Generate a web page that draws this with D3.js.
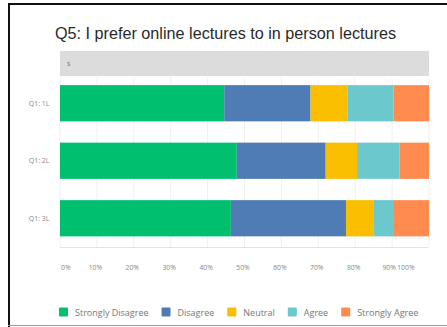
<!DOCTYPE html>
<html>
<head>
<meta charset="utf-8">
<script src="https://cdn.jsdelivr.net/npm/d3@7"></script>
<style>
  html, body { margin: 0; padding: 0; background: #fff; }
  svg { display: block; }
</style>
</head>
<body>
<script>
// Survey responses, percent of respondents per group
const groups = ["Q1: 1L", "Q1: 2L", "Q1: 3L"];
const responses = ["Strongly Disagree", "Disagree", "Neutral", "Agree", "Strongly Agree"];
const stronglyDisagree = [44.5, 47.9, 46.3];
const disagree = [23.4, 24.1, 31.2];
const neutral = [10.0, 8.5, 7.4];
const agree = [12.5, 11.5, 5.6];
const stronglyAgree = [9.6, 8.0, 9.5];
const tickValues = [0, 10, 20, 30, 40, 50, 60, 70, 80, 90, 100];
const tickLabels = ["0%", "10%", "20%", "30%", "40%", "50%", "60%", "70%", "80%", "90%", "100%"];
const colors = ["#00BF6F", "#507CB6", "#F9BE00", "#6BC8CD", "#FF8B4F"];

const W = 447, H = 327;
const svg = d3.select("body").append("svg").attr("width", W).attr("height", H);

// outer frame: heavy top and left rules, light bottom rule
svg.append("rect").attr("x", 8).attr("y", 3).attr("width", W - 8).attr("height", 2).attr("fill", "#111");
svg.append("rect").attr("x", 8).attr("y", 3).attr("width", 2).attr("height", H - 3).attr("fill", "#111");
svg.append("rect").attr("x", 8).attr("y", 325).attr("width", W - 8).attr("height", 1).attr("fill", "#999");

svg.append("text")
  .attr("x", 55).attr("y", 39)
  .attr("font-family", "Liberation Sans, Arial, sans-serif")
  .attr("font-size", 16.2)
  .attr("fill", "#2a2a2a")
  .text("Q5: I prefer online lectures to in person lectures");

const x = d3.scaleLinear().domain([0, 100]).range([60, 429]);
const y = d3.scaleBand().domain(groups).range([74.5, 247]).paddingInner(0.37).paddingOuter(0.185);

// header strip
svg.append("rect").attr("x", x(0)).attr("y", 51).attr("width", x(100) - x(0)).attr("height", 25).attr("fill", "#dcdcdc");
svg.append("text").attr("x", x(0) + 7).attr("y", 66)
  .attr("font-family", "Open Sans, sans-serif").attr("font-size", 7).attr("fill", "#777").text("s");

// vertical grid
svg.append("g").selectAll("line").data(tickValues).join("line")
  .attr("x1", d => x(d)).attr("x2", d => x(d))
  .attr("y1", 77).attr("y2", 247)
  .attr("stroke", "#f0f0f0").attr("stroke-width", 1);
svg.append("line").attr("x1", x(0)).attr("x2", x(100)).attr("y1", 247.5).attr("y2", 247.5)
  .attr("stroke", "#e4e4e4");

// stacked bars
const series = [stronglyDisagree, disagree, neutral, agree, stronglyAgree];
const rows = groups.map((g, i) => {
  const r = { group: g };
  responses.forEach((k, j) => r[k] = series[j][i]);
  return r;
});
const stacked = d3.stack().keys(responses)(rows);
svg.append("g").selectAll("g").data(stacked).join("g")
  .attr("fill", (d, i) => colors[i])
  .selectAll("rect").data(d => d).join("rect")
  .attr("x", d => x(d[0]))
  .attr("width", d => x(d[1]) - x(d[0]))
  .attr("y", d => y(d.data.group))
  .attr("height", y.bandwidth());

// category labels
svg.append("g").selectAll("text").data(groups).join("text")
  .attr("x", 49.5).attr("y", d => y(d) + y.bandwidth() / 2 + 2.5)
  .attr("text-anchor", "end")
  .attr("font-family", "Open Sans, sans-serif").attr("font-size", 7).attr("fill", "#888")
  .text(d => d);

// percentage axis labels; end labels are pulled inside the plot edges
const last = tickValues.length - 1;
svg.append("g").selectAll("text").data(tickValues).join("text")
  .attr("x", (d, i) => i === 0 ? x(d) + 1 : i === last ? x(d) - 14.5 : i === last - 1 ? x(d) - 3 : x(d) - 1.5)
  .attr("y", 270)
  .attr("text-anchor", (d, i) => i === 0 ? "start" : i === last ? "end" : "middle")
  .attr("font-family", "Open Sans, sans-serif").attr("font-size", 6.8).attr("fill", "#888")
  .text((d, i) => tickLabels[i]);

// legend
const legend = svg.append("g");
let lx = 59;
responses.forEach((r, i) => {
  legend.append("rect").attr("x", lx).attr("y", 307.5).attr("width", 9).attr("height", 9)
    .attr("rx", 1).attr("fill", colors[i]);
  const t = legend.append("text").attr("x", lx + 16).attr("y", 315.5)
    .attr("font-family", "Open Sans, sans-serif").attr("font-size", 9).attr("fill", "#777")
    .text(r);
  lx += 16 + t.node().getComputedTextLength() + 13;
});
</script>
</body>
</html>
